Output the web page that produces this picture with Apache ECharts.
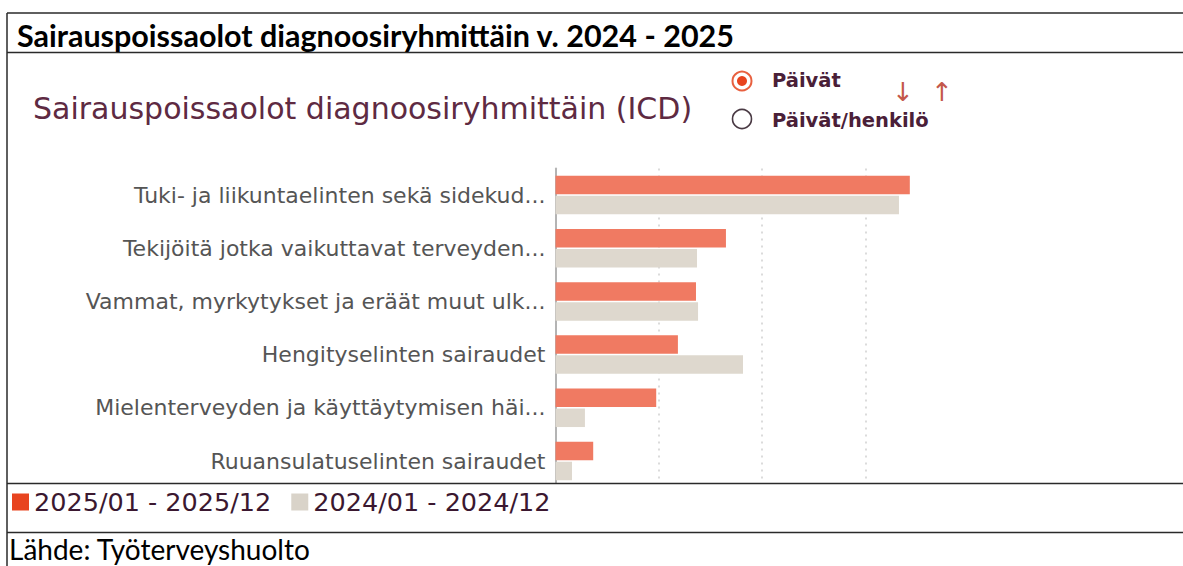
<!DOCTYPE html>
<html><head><meta charset="utf-8">
<script src="https://cdn.jsdelivr.net/npm/echarts@6/dist/echarts.min.js"></script>
<style>html,body{margin:0;padding:0;background:#fff;} #c{width:1183px;height:566px;}</style>
</head><body><div id="c"></div>
<script>
const docTitle = 'Sairauspoissaolot diagnoosiryhmittäin v. 2024 - 2025';
const chartTitle = 'Sairauspoissaolot diagnoosiryhmittäin (ICD)';
const sourceText = 'Lähde: Työterveyshuolto';
const radioOptions = ['Päivät', 'Päivät/henkilö'];
const categories = [
  'Tuki- ja liikuntaelinten sekä sidekud...',
  'Tekijöitä jotka vaikuttavat terveyden...',
  'Vammat, myrkytykset ja eräät muut ulk...',
  'Hengityselinten sairaudet',
  'Mielenterveyden ja käyttäytymisen häi...',
  'Ruuansulatuselinten sairaudet'
];
const seriesNames = ['2025/01 - 2025/12', '2024/01 - 2024/12'];
const values2025 = [3430, 1650, 1360, 1185, 975, 365];
const values2024 = [3325, 1370, 1380, 1815, 285, 160];

const chart = echarts.init(document.getElementById('c'), null, {renderer: 'svg'});
const uiFont = '"DejaVu Sans", sans-serif';
const docFont = 'Lato, sans-serif';
const lineColor = '#2a2a2a';

function hline(y, x1, x2) {
  return {type: 'line', z: 70, shape: {x1: x1, y1: y, x2: x2, y2: y}, style: {stroke: lineColor, lineWidth: 1.5}};
}
function txt(t, x, y, font, fill, align) {
  return {type: 'text', z: 80, x: x, y: y, style: {text: t, font: font, fill: fill, align: align || 'left', verticalAlign: 'middle', textAlign: align || 'left', textVerticalAlign: 'middle'}};
}

chart.setOption({
  animation: false,
  grid: {left: 555.5, top: 168.4, width: 413.2, height: 319.2, containLabel: false},
  xAxis: {
    type: 'value', min: 0, max: 4000, interval: 1000,
    axisLabel: {show: false}, axisLine: {show: false}, axisTick: {show: false},
    splitLine: {show: true, showMinLine: false, showMaxLine: false, lineStyle: {color: '#cfcfcf', width: 1.5, type: [2, 5]}}
  },
  yAxis: {
    type: 'category', data: categories, inverse: true,
    axisLine: {show: true, lineStyle: {color: '#b4b4b4', width: 2}},
    axisTick: {show: false},
    axisLabel: {color: '#555555', fontSize: 22, fontFamily: uiFont, margin: 10}
  },
  legend: {
    left: 12, top: 489, padding: 0, itemWidth: 17, itemHeight: 17, itemGap: 20, icon: 'rect', z: 60,
    textStyle: {fontSize: 25.5, color: '#3b1830', fontFamily: uiFont},
    data: [
      {name: seriesNames[0], itemStyle: {color: '#e8441f'}},
      {name: seriesNames[1], itemStyle: {color: '#d9d3c9'}}
    ]
  },
  series: [
    {name: seriesNames[0], type: 'bar', data: values2025, barWidth: 18.5, barGap: '8%', itemStyle: {color: '#f07a62'}},
    {name: seriesNames[1], type: 'bar', data: values2024, barWidth: 18.5, barGap: '8%', itemStyle: {color: '#ded8ce'}}
  ],
  graphic: [
    {type: 'rect', z: 50, shape: {x: 0, y: 484, width: 1183, height: 82}, style: {fill: '#ffffff'}},
    {type: 'rect', z: 50, shape: {x: 0, y: 0, width: 1183, height: 52}, style: {fill: '#ffffff'}},
    hline(13, 7, 1183), hline(52.5, 7, 1183), hline(483.5, 7, 1183), hline(532.5, 7, 1183),
    {type: 'line', z: 70, shape: {x1: 7, y1: 13, x2: 7, y2: 566}, style: {stroke: lineColor, lineWidth: 1.5}},
    txt(docTitle, 17, 35, 'bold 30.5px ' + docFont, '#000000'),
    txt(sourceText, 9, 549, '28px ' + docFont, '#000000'),
    txt(chartTitle, 33, 108, '30px ' + uiFont, '#5e2a42'),
    {type: 'circle', z: 80, shape: {cx: 742, cy: 81, r: 9.5}, style: {fill: '#fff', stroke: '#e8603f', lineWidth: 2}},
    {type: 'circle', z: 81, shape: {cx: 742, cy: 81, r: 5}, style: {fill: '#e8441f'}},
    {type: 'circle', z: 80, shape: {cx: 742, cy: 119, r: 9.5}, style: {fill: '#fff', stroke: '#4a3a44', lineWidth: 1.6}},
    txt(radioOptions[0], 772, 80, 'bold 19.5px ' + uiFont, '#4a2038'),
    txt(radioOptions[1], 772, 120, 'bold 19.5px ' + uiFont, '#4a2038'),
    txt('↓', 903, 92, '26px "DejaVu Sans"', '#c4584a', 'center'),
    txt('↑', 942, 92, '26px "DejaVu Sans"', '#c4584a', 'center')
  ]
});
</script></body></html>
